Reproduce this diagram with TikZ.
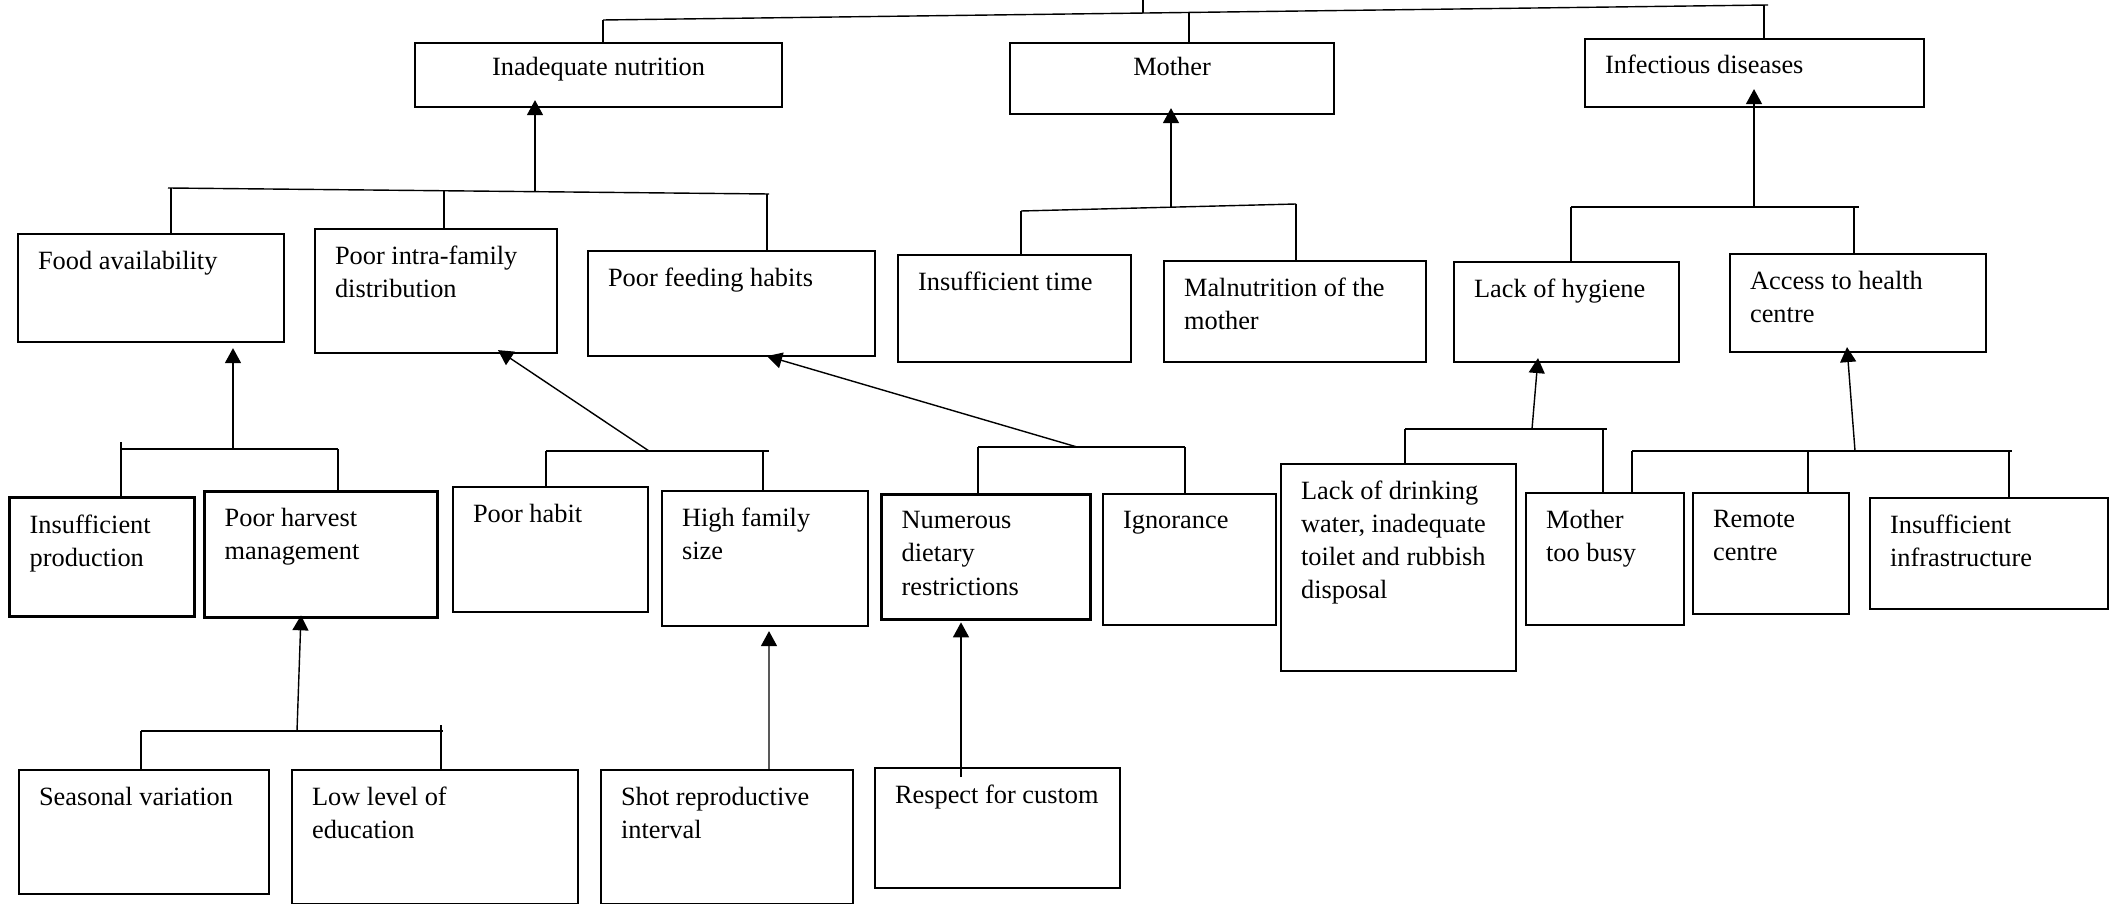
\documentclass[tikz,border=0pt]{standalone}
\usepackage{fontspec}
\setmainfont{Liberation Serif}
\usepackage{tikz}
\usetikzlibrary{arrows.meta,positioning}
\tikzset{>={Triangle[width=1.6mm,length=1.5mm]}}
\tikzset{every node/.style={font=\fontsize{7.5}{9.4}\selectfont}}

\newcommand{\celltext}[4][0.17cm]{\parbox[c][#3cm][t]{\dimexpr#2cm-0.4cm\relax}{\vspace*{#1}\raggedright #4}}

\begin{document}
\begin{tikzpicture}[y=-1cm]
  \tikzstyle{cell}=[draw, rectangle, line width=0.6pt, inner xsep=0.2cm, inner ysep=0pt, anchor=north west]
  \tikzstyle{boldcell}=[cell, line width=0.95pt]
  \tikzstyle{link}=[draw=black, line width=0.4pt]
  \useasboundingbox (0,0) rectangle (21.11,9.04);

    \node[cell](nutr) at (4.14,0.42) {\celltext[0.145cm]{3.67}{0.64}{\centering Inadequate nutrition}};
    \node[cell](moth) at (10.09,0.42) {\celltext[0.145cm]{3.24}{0.71}{\centering Mother}};
    \node[cell](infe) at (15.84,0.38) {\celltext[0.155cm]{3.39}{0.68}{Infectious diseases}};

    \node[cell](food) at (0.17,2.33) {\celltext{2.66}{1.08}{Food availability}};
    \node[cell](intra) at (3.14,2.28) {\celltext{2.42}{1.24}{Poor intra-family\\distribution}};
    \node[cell](feed) at (5.87,2.50) {\celltext{2.87}{1.05}{Poor feeding habits}};
    \node[cell](time) at (8.97,2.54) {\celltext{2.33}{1.07}{Insufficient time}};
    \node[cell](malm) at (11.63,2.60) {\celltext{2.62}{1.01}{Malnutrition of the\\mother}};
    \node[cell](hyg) at (14.53,2.61) {\celltext{2.25}{1.00}{Lack of hygiene}};
    \node[cell](acc) at (17.29,2.53) {\celltext{2.56}{0.98}{Access to health\\centre}};

    \node[boldcell](prod) at (0.08,4.96) {\celltext{1.85}{1.19}{Insufficient\\production}};
    \node[boldcell](harv) at (2.03,4.90) {\celltext{2.33}{1.26}{Poor harvest\\management}};
    \node[cell](habit) at (4.52,4.86) {\celltext{1.95}{1.25}{Poor habit}};
    \node[cell](fam) at (6.61,4.90) {\celltext{2.06}{1.35}{High family\\size}};
    \node[boldcell](diet) at (8.80,4.93) {\celltext{2.09}{1.25}{Numerous\\dietary\\restrictions}};
    \node[cell](ign) at (11.02,4.93) {\celltext{1.73}{1.31}{Ignorance}};
    \node[cell](water) at (12.80,4.63) {\celltext{2.35}{2.07}{Lack of drinking\\water, inadequate\\toilet and rubbish\\disposal}};
    \node[cell](busy) at (15.25,4.92) {\celltext{1.58}{1.32}{Mother\\too busy}};
    \node[cell](remo) at (16.92,4.92) {\celltext{1.56}{1.21}{Remote\\centre}};
    \node[cell](infra) at (18.69,4.97) {\celltext{2.38}{1.11}{Insufficient\\infrastructure}};

    \node[cell](seas) at (0.18,7.69) {\celltext{2.50}{1.24}{Seasonal variation}};
    \node[cell](educ) at (2.91,7.69) {\celltext{2.86}{1.34}{Low level of\\education}};
    \node[cell](shot) at (6.00,7.69) {\celltext{2.52}{1.34}{Shot reproductive\\interval}};
    \node[cell](cust) at (8.74,7.67) {\celltext{2.45}{1.20}{Respect for custom}};

    \coordinate(root) at (11.43,0);
    \coordinate(t1) at (6.03,0.20);
    \coordinate(t2) at (17.68,0.05);
    \coordinate(tj) at (11.43,0.13);
    \coordinate(tm) at (11.89,0.125);
    \coordinate(ti) at (17.64,0.055);
    \draw [link] (t1) -- (t2);
    \draw [link] (tj) -- (root);
    \draw [link] (t1) -- (t1 |- nutr.north);
    \draw [link] (tm) -- (tm |- moth.north);
    \draw [link] (ti) -- (ti |- infe.north);

    \coordinate(n1) at (1.68,1.88);
    \coordinate(n2) at (7.69,1.94);
    \coordinate(na) at (1.71,1.88);
    \coordinate(nb) at (4.44,1.91);
    \coordinate(nc) at (7.67,1.94);
    \coordinate(nj) at (5.35,1.92);
    \draw [link] (n1) -- (n2);
    \draw [link] (na) -- (na |- food.north);
    \draw [link] (nb) -- (nb |- intra.north);
    \draw [link] (nc) -- (nc |- feed.north);
    \draw [->][link, shorten >=-0.08cm] (nj) -- (nj |- nutr.south);

    \coordinate(m1) at (10.21,2.11);
    \coordinate(m2) at (12.96,2.04);
    \coordinate(mj) at (11.71,2.07);
    \draw [link] (m1) -- (m2);
    \draw [link] (m1) -- (m1 |- time.north);
    \draw [link] (m2) -- (m2 |- malm.north);
    \draw [->][link, shorten >=-0.07cm] (mj) -- (mj |- moth.south);

    \coordinate(i1) at (15.71,2.07);
    \coordinate(i2) at (18.59,2.07);
    \coordinate(ib) at (18.54,2.07);
    \coordinate(ij) at (17.54,2.07);
    \draw [link] (i1) -- (i2);
    \draw [link] (i1) -- (i1 |- hyg.north);
    \draw [link] (ib) -- (ib |- acc.north);
    \draw [->][link, shorten >=-0.19cm] (ij) -- (ij |- infe.south);

    \coordinate(f1) at (1.21,4.49);
    \coordinate(f2) at (3.38,4.49);
    \coordinate(fa) at (1.21,4.42);
    \coordinate(fj) at (2.33,4.49);
    \draw [link] (f1) -- (f2);
    \draw [link] (fa) -- (fa |- prod.north);
    \draw [link] (f2) -- (f2 |- harv.north);
    \draw [->][link, shorten >=0.05cm] (fj) -- (fj |- food.south);

    \coordinate(p1) at (5.46,4.51);
    \coordinate(p2) at (7.69,4.51);
    \coordinate(pb) at (7.63,4.51);
    \coordinate(pj) at (6.49,4.51);
    \draw [link] (p1) -- (p2);
    \draw [link] (p1) -- (p1 |- habit.north);
    \draw [link] (pb) -- (pb |- fam.north);
    \draw [->][link] (pj) -- ([xshift=1.84cm,yshift=0.04cm]intra.south west);

    \coordinate(h1) at (9.78,4.47);
    \coordinate(h2) at (11.85,4.47);
    \coordinate(hj) at (10.77,4.47);
    \draw [link] (h1) -- (h2);
    \draw [link] (h1) -- (h1 |- diet.north);
    \draw [link] (h2) -- (h2 |- ign.north);
    \draw [->][link] (hj) -- ([xshift=1.80cm,yshift=0.01cm]feed.south west);

    \coordinate(g1) at (14.05,4.29);
    \coordinate(g2) at (16.07,4.29);
    \coordinate(gb) at (16.03,4.29);
    \coordinate(gj) at (15.32,4.29);
    \draw [link] (g1) -- (g2);
    \draw [link] (g1) -- (g1 |- water.north);
    \draw [link] (gb) -- (gb |- busy.north);
    \draw [->][link] (gj) -- ([xshift=0.85cm,yshift=0.05cm]hyg.south west);

    \coordinate(a1) at (16.32,4.51);
    \coordinate(a2) at (20.12,4.51);
    \coordinate(ab) at (18.08,4.51);
    \coordinate(ac) at (20.09,4.51);
    \coordinate(aj) at (18.55,4.51);
    \draw [link] (a1) -- (a2);
    \draw [link] (a1) -- (a1 |- busy.north);
    \draw [link] (ab) -- (ab |- remo.north);
    \draw [link] (ac) -- (ac |- infra.north);
    \draw [->][link] (aj) -- ([xshift=1.18cm,yshift=0.06cm]acc.south west);

    \coordinate(s1) at (1.41,7.31);
    \coordinate(s2) at (4.43,7.31);
    \coordinate(sb) at (4.41,7.25);
    \coordinate(sj) at (2.97,7.31);
    \draw [link] (s1) -- (s2);
    \draw [link] (s1) -- (s1 |- seas.north);
    \draw [link] (sb) -- (sb |- educ.north);
    \draw [->][link] (sj) -- ([xshift=0.98cm,yshift=0.04cm]harv.south west);

    \draw [->][link] ([xshift=1.69cm]shot.north west) -- ([xshift=1.08cm,yshift=-0.04cm]fam.south west);
    \draw [->][link] ([xshift=0.87cm,yshift=-0.10cm]cust.north west) -- ([xshift=0.81cm,yshift=-0.01cm]diet.south west);

  \end{tikzpicture}
\end{document}
